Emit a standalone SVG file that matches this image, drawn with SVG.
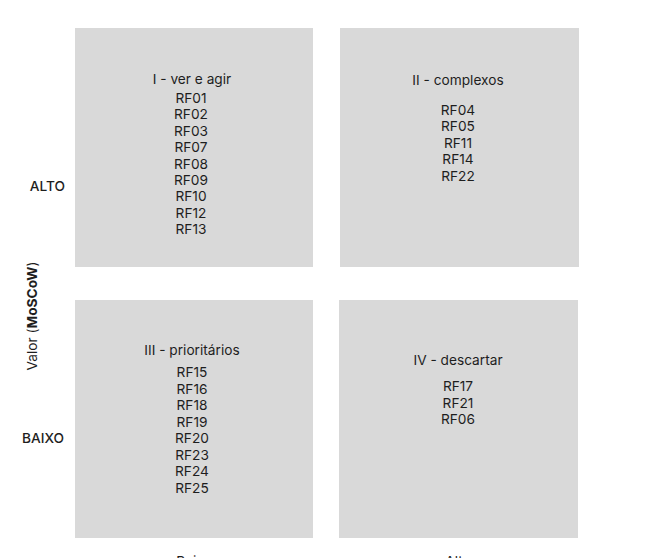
<svg xmlns="http://www.w3.org/2000/svg" width="650" height="558" viewBox="0 0 650 558">
<style>
.q{fill:#D9D9D9}
text{font-family:Inter,"Liberation Sans",sans-serif;font-size:13.7px;fill:#1e1e1e}
.c{text-anchor:middle}
.ax{font-weight:500;text-anchor:end}
</style>
<rect width="650" height="558" fill="#fff"/>
<g id="q1">
<rect class="q" x="75" y="28" width="238" height="239"/>
<text class="c" x="192" y="84">I - ver e agir</text>
<text class="c" x="191" y="103">RF01</text>
<text class="c" x="191" y="119.4">RF02</text>
<text class="c" x="191" y="135.8">RF03</text>
<text class="c" x="191" y="152.2">RF07</text>
<text class="c" x="191" y="168.6">RF08</text>
<text class="c" x="191" y="185">RF09</text>
<text class="c" x="191" y="201.4">RF10</text>
<text class="c" x="191" y="217.8">RF12</text>
<text class="c" x="191" y="234.2">RF13</text>
</g>
<g id="q2">
<rect class="q" x="340" y="28" width="239" height="239"/>
<text class="c" x="458" y="85">II - complexos</text>
<text class="c" x="458" y="115">RF04</text>
<text class="c" x="458" y="131.4">RF05</text>
<text class="c" x="458" y="147.8">RF11</text>
<text class="c" x="458" y="164.2">RF14</text>
<text class="c" x="458" y="180.6">RF22</text>
</g>
<g id="q3">
<rect class="q" x="75" y="300" width="238" height="238"/>
<text class="c" x="192" y="355">III - prioritários</text>
<text class="c" x="192" y="377">RF15</text>
<text class="c" x="192" y="393.5">RF16</text>
<text class="c" x="192" y="410">RF18</text>
<text class="c" x="192" y="426.5">RF19</text>
<text class="c" x="192" y="443">RF20</text>
<text class="c" x="192" y="459.5">RF23</text>
<text class="c" x="192" y="476">RF24</text>
<text class="c" x="192" y="492.5">RF25</text>
</g>
<g id="q4">
<rect class="q" x="339" y="300" width="239" height="238"/>
<text class="c" x="458" y="365">IV - descartar</text>
<text class="c" x="458" y="391">RF17</text>
<text class="c" x="458" y="407.5">RF21</text>
<text class="c" x="458" y="424">RF06</text>
</g>
<g id="axes">
<text class="ax" x="65" y="190.5">ALTO</text>
<text class="ax" x="64" y="443">BAIXO</text>
<text class="c" transform="translate(37,316) rotate(-90)">Valor (<tspan font-weight="700">MoSCoW</tspan>)</text>
<text class="c" x="194" y="566">Baixo</text>
<text class="c" x="458" y="566">Alto</text>
</g>
<g id="connectors"></g>
</svg>
